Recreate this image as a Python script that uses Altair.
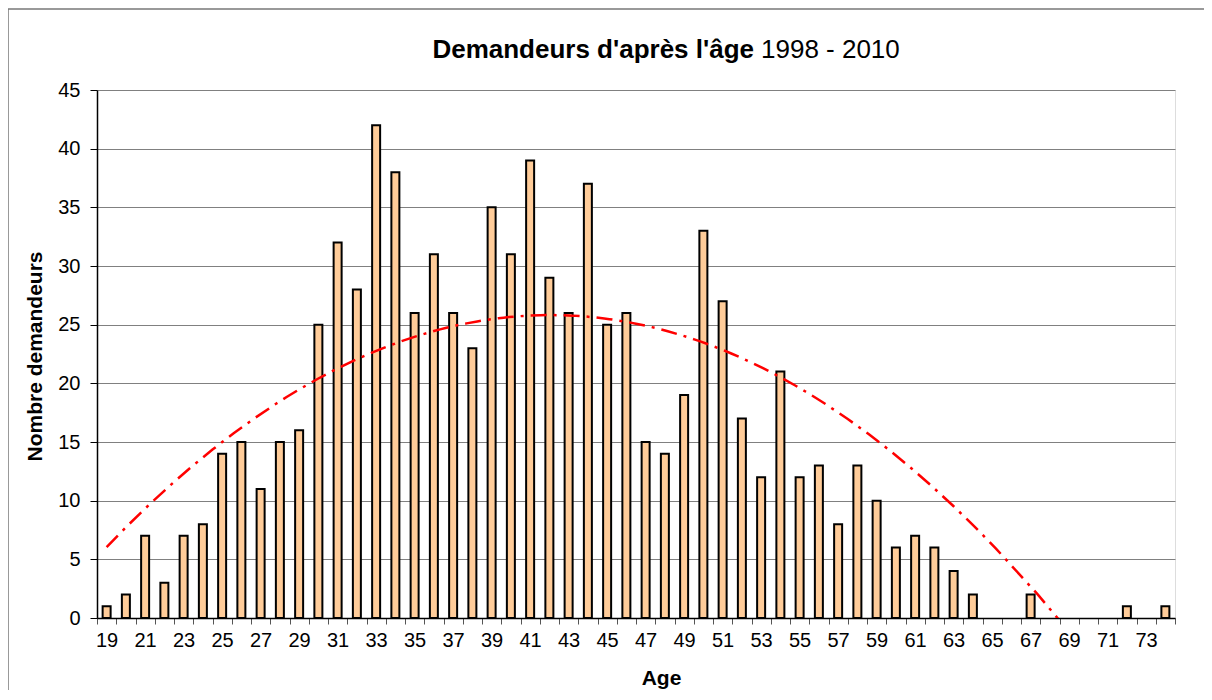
import altair as alt
import pandas as pd

ages = list(range(19, 75))
counts = [1, 2, 7, 3, 7, 8, 14, 15, 11, 15, 16, 25, 32, 28, 42, 38, 26, 31, 26, 23,
          35, 31, 39, 29, 26, 37, 25, 26, 15, 14, 19, 33, 27, 17, 12, 21, 12, 13, 8, 13,
          10, 6, 7, 6, 4, 2, 0, 0, 2, 0, 0, 0, 0, 1, 0, 1]
y_ticks = list(range(0, 46, 5))
x_bounds = [a - 0.5 for a in range(19, 76)]

title_bold = "Demandeurs d'après l'âge"
title_regular = "1998 - 2010"

df = pd.DataFrame({"age": ages, "count": counts})

W, H = 1078, 528
FONT = "Liberation Sans"

xscale = alt.Scale(domain=[18.5, 74.5], nice=False, zero=False, padding=0)
yscale = alt.Scale(domain=[0, 45], nice=False, padding=0)

xaxis = alt.Axis(values=x_bounds, title="Age", grid=False,
                 labelExpr="((datum.value - 18.5) % 2 == 0 && datum.value < 74) ? format(datum.value + 0.5, 'd') : ''",
                 labelOffset=W / 56 / 2, labelOverlap=False, labelFlush=False, labelBound=False,
                 tickSize=6, tickColor="#555555", tickWidth=1,
                 domainColor="black", domainWidth=1.5,
                 labelFont=FONT, labelFontSize=20, labelColor="black", labelPadding=6,
                 titleFont=FONT, titleFontSize=21, titleFontWeight="bold", titleColor="black",
                 titleX=564, titleY=66, titleBaseline="alphabetic")
yaxis = alt.Axis(values=y_ticks, title="Nombre demandeurs", grid=True,
                 gridColor="#808080", gridWidth=1,
                 tickSize=7, tickColor="black", domainColor="black", domainWidth=1.5,
                 labelFont=FONT, labelFontSize=20, labelColor="black", labelPadding=10,
                 labelOverlap=False,
                 titleFont=FONT, titleFontSize=21, titleFontWeight="bold", titleColor="black",
                 titleX=-62, titleY=266, titleBaseline="middle", titleAngle=270)

base = alt.Chart(df)

bars = base.transform_filter("datum.count > 0").mark_bar(
    size=8, fill="#FFCC99", stroke="black", strokeWidth=2
).encode(
    x=alt.X("age:Q", scale=xscale, axis=xaxis),
    y=alt.Y("count:Q", scale=yscale, axis=yaxis),
)

trend = base.transform_regression(
    "age", "count", method="poly", order=2, extent=[19, 74]
).mark_line(
    color="#FF0000", strokeWidth=2.5, strokeDash=[16, 7, 3, 7], clip=True
).encode(
    x=alt.X("age:Q", scale=xscale, axis=xaxis),
    y=alt.Y("count:Q", scale=yscale, axis=yaxis),
)

deco = pd.DataFrame({"t": [title_bold], "u": [title_regular]})

t1 = alt.Chart(deco).mark_text(
    font=FONT, fontSize=26, fontWeight="bold", align="right", baseline="alphabetic", color="black"
).encode(text="t:N", x=alt.value(657), y=alt.value(-32))

t2 = alt.Chart(deco).mark_text(
    font=FONT, fontSize=26, fontWeight="normal", align="left", baseline="alphabetic", color="black"
).encode(text="u:N", x=alt.value(664), y=alt.value(-32))

frame_top = alt.Chart(deco).mark_rule(color="#777777", strokeWidth=1.5).encode(
    x=alt.value(-89), x2=alt.value(3000), y=alt.value(-81), y2=alt.value(-81))
frame_left = alt.Chart(deco).mark_rule(color="#777777", strokeWidth=1.5).encode(
    x=alt.value(-89), x2=alt.value(-89), y=alt.value(-81), y2=alt.value(600))

chart = alt.layer(frame_top, frame_left, bars, trend, t1, t2).properties(
    width=W, height=H,
    autosize=alt.AutoSizeParams(type="none"),
    padding={"left": 89, "top": 82, "right": 29, "bottom": 72},
).configure_view(stroke="#808080", strokeWidth=1).configure_axisX(
    labelOverlap=False
).configure(background="white")

chart.save("out.html", embed_options={"renderer": "svg", "actions": False})
